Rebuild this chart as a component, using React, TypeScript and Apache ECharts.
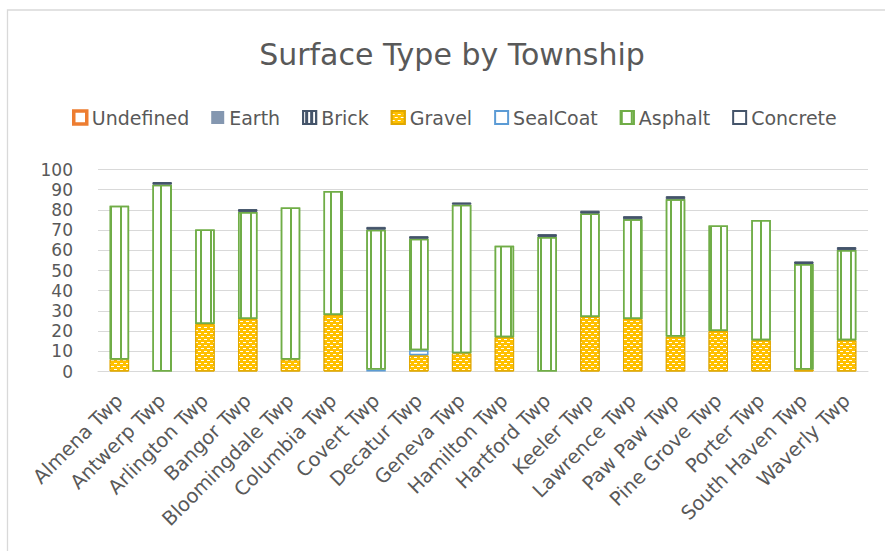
import React, { useEffect, useRef } from 'react';
import * as echarts from 'echarts';

const townships = [
  'Almena Twp', 'Antwerp Twp', 'Arlington Twp', 'Bangor Twp', 'Bloomingdale Twp', 'Columbia Twp',
  'Covert Twp', 'Decatur Twp', 'Geneva Twp', 'Hamilton Twp', 'Hartford Twp', 'Keeler Twp',
  'Lawrence Twp', 'Paw Paw Twp', 'Pine Grove Twp', 'Porter Twp', 'South Haven Twp', 'Waverly Twp',
];

const undefinedMiles = [0, 0, 0, 0, 0, 0, 0, 0, 0, 0, 0, 0, 0, 0, 0, 0, 0, 0];
const earthMiles = [0, 0, 0, 0, 0, 0, 0, 0, 0, 0, 0, 0, 0, 0, 0, 0, 0, 0];
const brickMiles = [0, 0, 0, 0, 0, 0, 0, 0, 0, 0, 0, 0, 0, 0, 0, 0, 0, 0];
const gravelMiles = [6, 0, 23.5, 26, 6, 28, 0, 8, 9, 17, 0, 27, 26, 17.3, 20, 15.5, 1, 15.5];
const sealCoatMiles = [0, 0, 0, 0, 0, 0, 1, 2.5, 0, 0, 0, 0, 0, 0, 0, 0, 0, 0];
const asphaltMiles = [76, 92.5, 46.8, 53, 75.2, 61.3, 69.2, 55.2, 73.6, 45.3, 66.6, 51.2, 49.4, 68, 52.3, 59.5, 52.2, 44.6];
const concreteMiles = [0, 1.3, 0, 1.4, 0, 0, 1.4, 1.3, 1.1, 0, 1.4, 1.4, 1.5, 1.5, 0, 0, 1.3, 1.5];

const yMin = 0;
const yMax = 100;
const yStep = 10;

const FONT = 'DejaVu Sans';
const TEXT = '#595959';

const nz = (arr: number[]) => arr.map((v) => (v === 0 ? null : v));

export default function App() {
  const ref = useRef<HTMLDivElement>(null);

  useEffect(() => {
    if (!ref.current) return;
    const chart = echarts.init(ref.current, undefined, { renderer: 'svg' });

    const asphaltDecal = {
      symbol: 'rect', symbolSize: 1, symbolKeepAspect: false, color: '#70AD47',
      dashArrayX: [2, 8], dashArrayY: [10, 0],
    };
    const gravelDecal = {
      symbol: 'rect', symbolSize: 1, symbolKeepAspect: false, color: '#ffffff',
      dashArrayX: [[3, 3], [0, 3, 3, 0]], dashArrayY: [1, 2],
    };
    const brickDecal = {
      symbol: 'rect', symbolSize: 1, symbolKeepAspect: false, color: '#ffffff',
      dashArrayX: [1.5, 3], dashArrayY: [10, 0],
    };

    const base = {
      type: 'bar',
      stack: 'total',
      barCategoryGap: '54.5%',
    };

    chart.setOption({
      animation: false,
      backgroundColor: '#ffffff',
      title: {
        text: 'Surface Type by Township',
        left: 447,
        top: 34,
        textAlign: 'center',
        textStyle: { fontFamily: FONT, fontSize: 30, fontWeight: 'normal', color: TEXT },
      },
      legend: {
        left: 67,
        top: 103,
        icon: 'rect',
        itemWidth: 13,
        itemHeight: 13,
        itemGap: 22,
        textStyle: { fontFamily: FONT, fontSize: 19, color: TEXT },
        data: [
          { name: 'Undefined', itemStyle: { color: '#ffffff', borderColor: '#ED7D31', borderWidth: 3.5 } },
          { name: 'Earth' },
          { name: 'Brick' },
          { name: 'Gravel' },
          { name: 'SealCoat', itemStyle: { color: '#ffffff', borderColor: '#5B9BD5', borderWidth: 2 } },
          { name: 'Asphalt', itemStyle: { color: '#ffffff', borderColor: '#70AD47', borderWidth: 2 } },
          { name: 'Concrete', itemStyle: { color: '#ffffff', borderColor: '#44546A', borderWidth: 2 } },
        ],
      },
      grid: { left: 98, right: 17, top: 169.5, bottom: 179.5, outerBoundsMode: 'none', containLabel: false },
      xAxis: {
        type: 'category',
        data: townships,
        axisLine: { show: true, lineStyle: { color: '#D9D9D9', width: 1 } },
        axisTick: { show: false },
        axisLabel: {
          rotate: 45,
          margin: 26,
          interval: 0,
          fontFamily: FONT,
          fontSize: 19.5,
          color: TEXT,
        },
      },
      yAxis: {
        type: 'value',
        min: yMin,
        max: yMax,
        interval: yStep,
        axisLine: { show: false },
        axisTick: { show: false },
        splitLine: { show: true, lineStyle: { color: '#D9D9D9', width: 1 } },
        axisLabel: { margin: 25, fontFamily: FONT, fontSize: 17, color: TEXT },
      },
      series: [
        {
          ...base, name: 'Undefined', data: nz(undefinedMiles),
          itemStyle: { color: '#ED7D31', borderColor: '#ED7D31', borderWidth: 1 },
        },
        {
          ...base, name: 'Earth', data: nz(earthMiles),
          itemStyle: { color: '#8497B0', borderColor: '#8497B0', borderWidth: 0 },
        },
        {
          ...base, name: 'Brick', data: nz(brickMiles),
          itemStyle: { color: '#44546A', borderColor: '#44546A', borderWidth: 1, decal: brickDecal },
        },
        {
          ...base, name: 'Gravel', data: nz(gravelMiles),
          itemStyle: { color: '#FFC000', borderColor: '#E0A800', borderWidth: 1, decal: gravelDecal },
        },
        {
          ...base, name: 'SealCoat', data: nz(sealCoatMiles),
          itemStyle: { color: '#ffffff', borderColor: '#5B9BD5', borderWidth: 1.5 },
        },
        {
          ...base, name: 'Asphalt', data: nz(asphaltMiles),
          itemStyle: { color: '#ffffff', borderColor: '#70AD47', borderWidth: 1.5, decal: asphaltDecal },
        },
        {
          ...base, name: 'Concrete', data: nz(concreteMiles),
          itemStyle: { color: '#44546A', borderColor: '#44546A', borderWidth: 1 },
        },
      ],
      graphic: [
        {
          type: 'rect',
          silent: true,
          shape: { x: 7.5, y: 10, width: 900, height: 600 },
          style: { fill: 'none', stroke: '#D9D9D9', lineWidth: 1.3 },
          z: 100,
        },
      ],
    });

    return () => chart.dispose();
  }, []);

  return (
    <div
      ref={ref}
      style={{ position: 'fixed', left: 0, top: 0, width: 885, height: 551, background: '#fff' }}
    />
  );
}
